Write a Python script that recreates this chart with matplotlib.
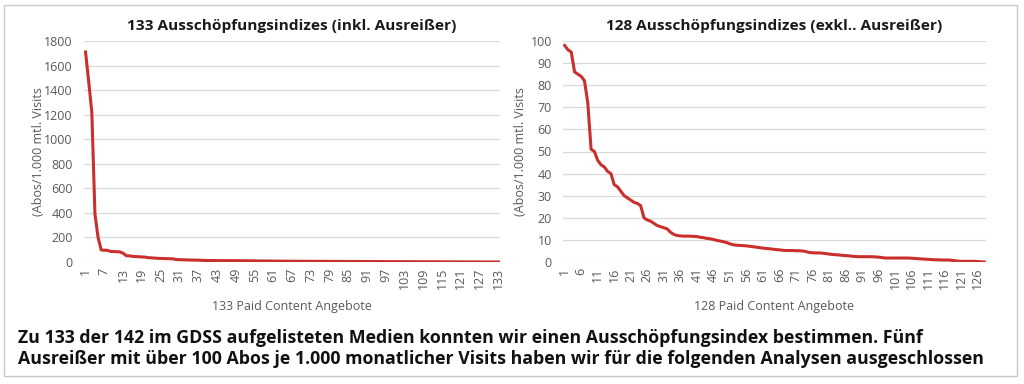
import matplotlib
matplotlib.use("Agg")
import matplotlib.pyplot as plt
from matplotlib.patches import Rectangle

# ---- data ----
outliers = [1710, 1470, 1220, 390, 200]
excl_values = [
    98, 96, 95, 86, 85, 84, 82, 72, 51, 50,
    46, 44, 43, 41, 40, 35, 34, 32, 30, 29,
    28, 27, 26.5, 25.5, 20, 19, 18.5, 17.5, 16.5, 16,
    15.5, 15, 13.5, 12.5, 12, 11.8, 11.7, 11.7, 11.7, 11.6,
    11.5, 11.2, 11, 10.7, 10.5, 10.2, 9.8, 9.5, 9.2, 8.8,
    8.2, 7.8, 7.6, 7.5, 7.4, 7.3, 7.1, 6.9, 6.7, 6.5,
    6.3, 6.1, 6.0, 5.8, 5.6, 5.5, 5.3, 5.2, 5.2, 5.2,
    5.1, 5.1, 5.0, 4.7, 4.3, 4.2, 4.1, 4.1, 4.0, 3.8,
    3.6, 3.4, 3.3, 3.2, 3.0, 2.9, 2.8, 2.6, 2.5, 2.4,
    2.4, 2.4, 2.4, 2.4, 2.3, 2.2, 2.0, 1.8, 1.8, 1.8,
    1.8, 1.8, 1.8, 1.8, 1.8, 1.7, 1.6, 1.5, 1.4, 1.3,
    1.2, 1.1, 1.0, 1.0, 0.9, 0.9, 0.9, 0.8, 0.6, 0.4,
    0.3, 0.3, 0.3, 0.3, 0.3, 0.2, 0.1, 0.0,
]
incl_values = outliers + excl_values

incl_x = list(range(1, len(incl_values) + 1))
excl_x = list(range(1, len(excl_values) + 1))

incl_xticks = list(range(1, 134, 6))
excl_xticks = list(range(1, 128, 5))
incl_yticks = list(range(0, 1801, 200))
excl_yticks = list(range(0, 101, 10))

title_left = "133 Ausschöpfungsindizes (inkl. Ausreißer)"
title_right = "128 Ausschöpfungsindizes (exkl.. Ausreißer)"
xlabel_left = "133 Paid Content Angebote"
xlabel_right = "128 Paid Content Angebote"
ylabel = "(Abos/1.000 mtl. Visits"
caption = ("Zu 133 der 142 im GDSS aufgelisteten Medien konnten wir einen Ausschöpfungsindex bestimmen. Fünf\n"
           "Ausreißer mit über 100 Abos je 1.000 monatlicher Visits haben wir für die folgenden Analysen ausgeschlossen")

plt.rcParams['font.family'] = ['Open Sans', 'DejaVu Sans']

W, H = 1024, 384
fig = plt.figure(figsize=(W / 100, H / 100), dpi=100)
fig.patch.set_facecolor('white')

# border
fig.patches.append(Rectangle((4 / W, (H - 376) / H), 1013 / W, 371 / H,
                             transform=fig.transFigure, fill=False,
                             edgecolor='#C8C8C8', linewidth=1.0))

line_color = '#C9302C'
tick_color = '#595959'
grid_color = '#D9D9D9'


def setup(ax, x, y, xticks, yticks, ylim, xmax, title, xlabel, ylab_x):
    ax.plot(x, y, color=line_color, linewidth=2.2, solid_joinstyle='round')
    ax.set_xlim(0.5, xmax + 0.5)
    ax.set_ylim(*ylim)
    ax.set_xticks(xticks)
    ax.set_xticklabels([str(t) for t in xticks], rotation=90, fontsize=9, color=tick_color)
    ax.set_yticks(yticks)
    ax.set_yticklabels([str(t) for t in yticks], fontsize=9, color=tick_color)
    ax.tick_params(axis='x', length=0, pad=4)
    ax.tick_params(axis='y', length=0, pad=8)
    for s in ax.spines.values():
        s.set_visible(False)
    ax.yaxis.grid(True, color=grid_color, linewidth=0.9)
    ax.set_axisbelow(True)
    ax.set_title(title, fontsize=11.1, fontweight='bold', color='#1A1A1A', pad=8)
    ax.set_xlabel(xlabel, fontsize=9, color=tick_color, labelpad=8)
    ax.set_ylabel(ylabel, fontsize=9, color=tick_color)
    ax.yaxis.set_label_coords(ylab_x, 0.5)


axL = fig.add_axes([84 / W, (H - 262) / H, (500 - 84) / W, 221 / H])
setup(axL, incl_x, incl_values, incl_xticks, incl_yticks, (0, 1800), 133,
      title_left, xlabel_left, -0.094)

axR = fig.add_axes([563 / W, (H - 262) / H, (986 - 563) / W, 221 / H])
setup(axR, excl_x, excl_values, excl_xticks, excl_yticks, (0, 100), 128,
      title_right, xlabel_right, -0.086)

fig.text(18 / W, (H - 348.5) / H, caption, fontsize=12.8, fontweight='bold',
         color='#111111', va='center', ha='left', linespacing=1.15)

fig.savefig('out.png', dpi=100, facecolor='white')
